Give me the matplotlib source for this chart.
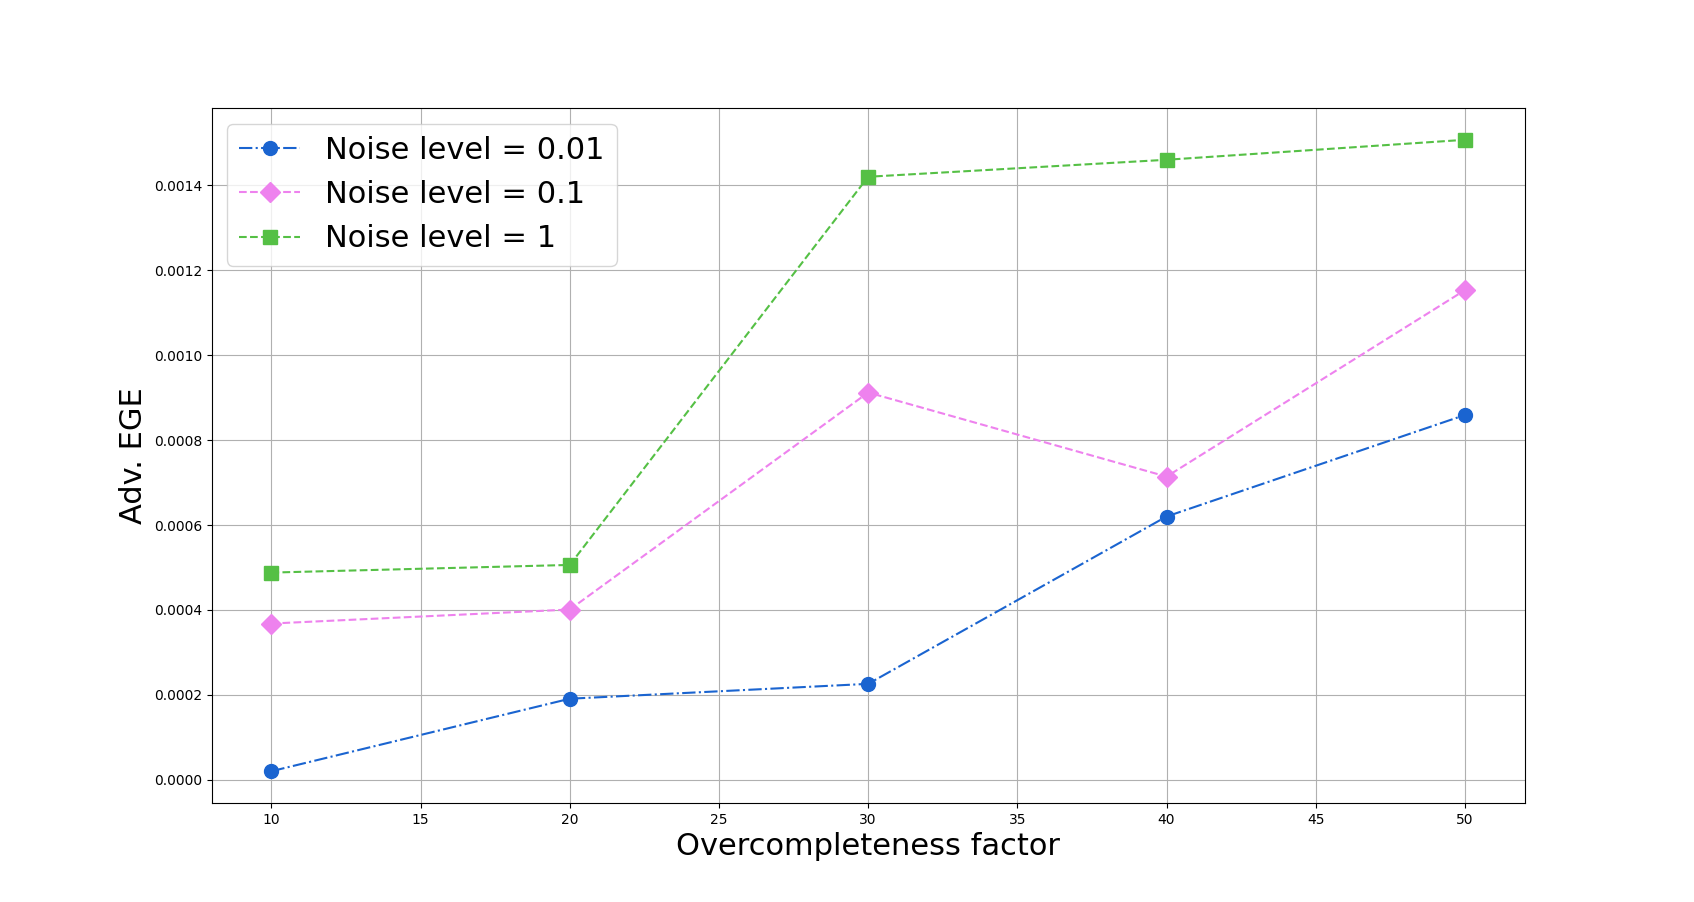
import matplotlib
matplotlib.use("Agg")
import matplotlib.pyplot as plt

factors = [10, 20, 30, 40, 50]
noise_001 = [0.0000203, 0.000191, 0.000226, 0.000620, 0.000859]
noise_01 = [0.000368, 0.000401, 0.000912, 0.000714, 0.001153]
noise_1 = [0.000488, 0.000506, 0.001420, 0.001460, 0.001507]

fig, ax = plt.subplots(figsize=(16.94, 9.02), dpi=100)
ax.plot(factors, noise_001, linestyle='-.', marker='o', color='#1a64d0', markersize=10, label='Noise level = 0.01')
ax.plot(factors, noise_01, linestyle='--', marker='D', color='violet', markersize=10, label='Noise level = 0.1')
ax.plot(factors, noise_1, linestyle='--', marker='s', color='#55c045', markersize=10, label='Noise level = 1')
ax.grid(True)
ax.set_xlabel('Overcompleteness factor', fontsize=22)
ax.set_ylabel('Adv. EGE', fontsize=22)
ax.legend(fontsize=22, loc='upper left')
fig.savefig('out.png', dpi=100)
